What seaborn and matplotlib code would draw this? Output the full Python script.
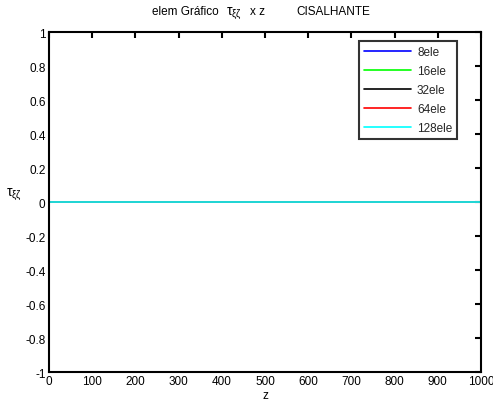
import matplotlib
matplotlib.use("Agg")
import matplotlib.pyplot as plt
import seaborn as sns
import pandas as pd

series = ["8ele", "16ele", "32ele", "64ele", "128ele"]
colors = ["#0000ff", "#00ff00", "#000000", "#ff0000", "#00ffff"]
z_vals = [0, 1000]
tau_8 = [0, 0]
tau_16 = [0, 0]
tau_32 = [0, 0]
tau_64 = [0, 0]
tau_128 = [0, 0]
x_ticks = [0, 100, 200, 300, 400, 500, 600, 700, 800, 900, 1000]
y_ticks = [-1, -0.8, -0.6, -0.4, -0.2, 0, 0.2, 0.4, 0.6, 0.8, 1]
y_tick_labels = ["-1", "-0.8", "-0.6", "-0.4", "-0.2", "0", "0.2", "0.4", "0.6", "0.8", "1"]
title_parts = ["elem Gráfico", r"$\mathregular{\tau_{\xi\zeta}}$", "x z", "CISALHANTE"]

rows = []
for name, vals in zip(series, [tau_8, tau_16, tau_32, tau_64, tau_128]):
    for z, t in zip(z_vals, vals):
        rows.append({"z": z, "tau": t, "mesh": name})
df = pd.DataFrame(rows)

sns.set_style("white")
plt.rcParams["font.family"] = ["Liberation Sans", "DejaVu Sans"]
plt.rcParams["mathtext.fontset"] = "custom"
plt.rcParams["mathtext.rm"] = "Liberation Sans"

W, H = 493, 410
fig = plt.figure(figsize=(W / 100, H / 100), dpi=100)
ax = fig.add_axes([49 / W, 1 - 373 / H, 432 / W, 340 / H])
sns.lineplot(data=df, x="z", y="tau", hue="mesh", hue_order=series,
             palette=dict(zip(series, colors)), ax=ax, linewidth=1.2)

fs = 8.5
ax.set_xlim(0, 1000)
ax.set_ylim(-1, 1)
ax.set_xticks(x_ticks)
ax.set_xticklabels([str(v) for v in x_ticks])
ax.set_yticks(y_ticks)
ax.set_yticklabels(y_tick_labels)
ax.tick_params(direction="in", length=4, width=1.5, labelsize=fs, top=True, right=True,
               pad=2.5, color="black", labelcolor="black")
for s in ax.spines.values():
    s.set_visible(True)
    s.set_linewidth(1.5)
    s.set_color("black")

ax.set_xlabel("z", fontsize=fs, labelpad=1, color="black")
ax.set_ylabel(r"$\mathregular{\tau_{\xi\zeta}}$", fontsize=10, rotation=0, labelpad=8, color="black")

for txt, px, py, f in zip(title_parts, [152, 226, 250, 296], [12, 14, 12, 12], [fs, 10, fs, fs]):
    fig.text(px / W, 1 - py / H, txt, fontsize=f, ha="left", va="center", color="black")

leg = ax.legend(loc="upper right", bbox_to_anchor=((457 - 49) / 432, (373 - 42) / 340),
                fontsize=fs, frameon=True, fancybox=False, edgecolor="black",
                handlelength=4.0, labelspacing=0.6, borderpad=0.4, handletextpad=0.5,
                borderaxespad=0)
leg.get_frame().set_linewidth(1.5)
leg.set_title(None)

fig.savefig("out.png", dpi=100)
